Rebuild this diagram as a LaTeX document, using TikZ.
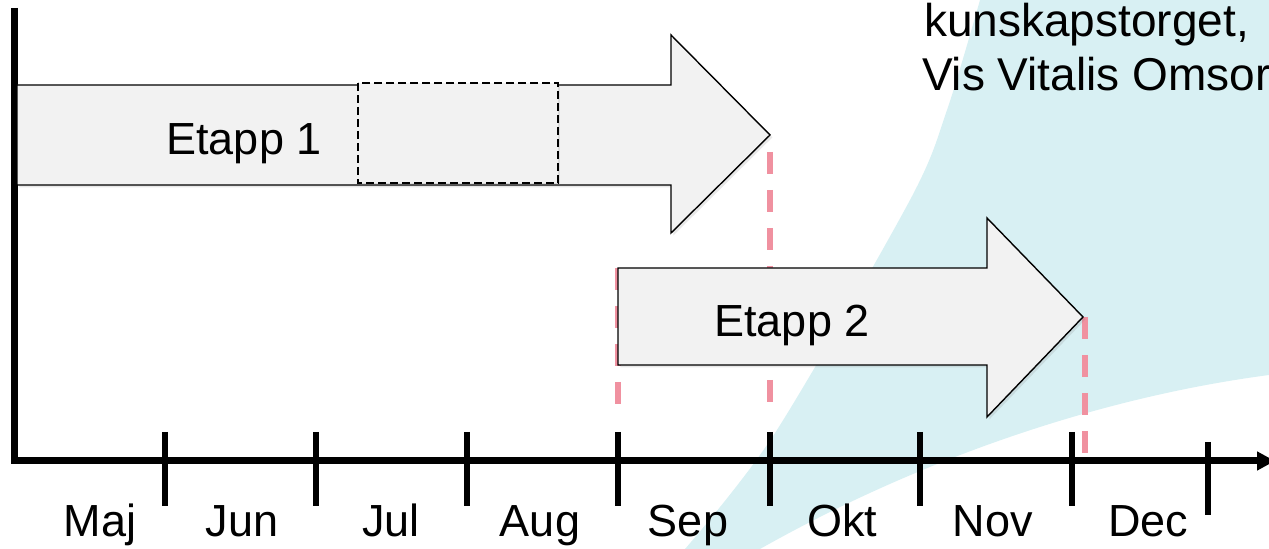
\documentclass[tikz,border=0pt]{standalone}
\usepackage{fontspec}
\setmainfont{Liberation Sans}
\usetikzlibrary{arrows.meta,shadows}
\definecolor{swoosh}{RGB}{216,240,243}
\definecolor{guidepink}{RGB}{240,145,160}
\definecolor{stagegray}{RGB}{242,242,242}
\begin{document}
\begin{tikzpicture}[x=0.5pt,y=-0.5pt,font=\fontsize{22.5}{27}\selectfont,
    stage/.style={draw=black,fill=stagegray,line width=0.7pt,
      drop shadow={shadow xshift=1.2pt,shadow yshift=-1.2pt,opacity=0.18}},
    guide/.style={guidepink,line width=3pt,dash pattern=on 11pt off 8pt},
    monthtick/.style={line width=3pt}]
      \useasboundingbox (0,0) rectangle (1269,549);
      \clip (0,0) rectangle (1269,549);
      % background swoosh
      \fill[swoosh] plot[smooth] coordinates {(685,549) (775,433) (910,200) (947,110) (980,0)}
        -- (1269,0) -- (1269,375) .. controls (1080,400) and (900,470) .. (760,549) -- cycle;
      \node[anchor=base west,font=\fontsize{23}{28}\selectfont] (note1) at (917,37) {kunskapstorget,};
      \node[anchor=base west,font=\fontsize{23}{28}\selectfont] (note2) at (915,91) {Vis Vitalis Omsor};

      % guide lines
      \foreach \x/\ya/\yb in {770/152/402, 618/268/418, 1085/317/453}{
        \draw[guide] (\x,\ya) -- (\x,\yb);
      }

      % axes
      \coordinate (origin) at (14,461);
      \draw[line width=3.5pt,-{Triangle[length=9pt,width=9pt]}] (14,8) -- (origin) -- (1275,461);
      \foreach \x/\ya/\yb in {165/432/506, 316/432/506, 467/432/506, 618/432/506,
                              770/432/506, 920/432/506, 1072/432/506, 1208/442/515}{
        \draw[monthtick] (\x,\ya) -- (\x,\yb);
      }
      \foreach \m/\x in {Maj/100, Jun/242, Jul/391, Aug/540, Sep/688, Okt/842, Nov/993, Dec/1148}{
        \node[anchor=base] (\m) at (\x,537) {\m};
      }

      % stages
      \draw[stage] (17,85) -- (671,85) -- (671,35) -- (770,135) -- (671,233) -- (671,185) -- (17,185) -- cycle;
      \draw[stage,dash pattern=on 4pt off 2pt,drop shadow={opacity=0}] (358,83) rectangle (558,183);
      \node[anchor=base] (etapp1) at (244,155) {Etapp 1};
      \draw[stage] (618,268) -- (987,268) -- (987,218) -- (1083,317) -- (987,417) -- (987,365) -- (618,365) -- cycle;
      \node[anchor=base] (etapp2) at (792,337) {Etapp 2};
    \end{tikzpicture}
\end{document}
